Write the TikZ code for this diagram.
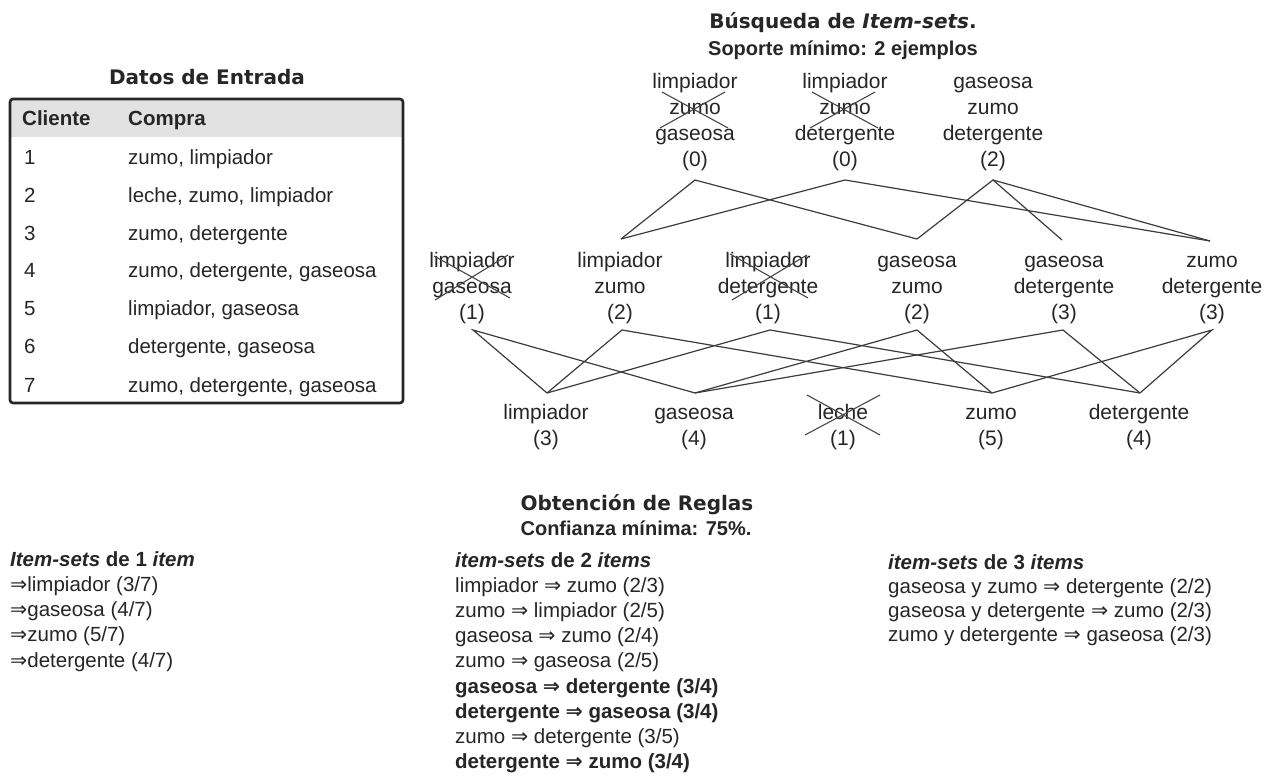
\documentclass[tikz,border=0pt]{standalone}
\usepackage{fontspec}
\setmainfont{Liberation Sans}
\newfontfamily\vfont{DejaVu Sans}
\newfontfamily\dvfont{DejaVu Sans}
\newcommand\imp{{\dvfont ⇒}}
\definecolor{ink}{HTML}{262626}
\definecolor{hdr}{HTML}{E2E2E2}
\begin{document}
\begin{tikzpicture}[x=1pt,y=-1pt,
  txt/.style={font=\fontsize{21}{26}\selectfont, inner sep=0pt, align=center, text=ink},
  cell/.style={font=\fontsize{20.5}{24}\selectfont, inner sep=0pt, anchor=base west, text=ink},
  rules/.style={font=\fontsize{20.5}{25.2}\selectfont, inner sep=0pt, align=left, anchor=base west, text=ink},
  title/.style={font=\vfont\bfseries\fontsize{20}{24}\selectfont, inner sep=0pt, text=ink},
  subtitle/.style={font=\bfseries\fontsize{20}{24}\selectfont, inner sep=0pt, text=ink},
  edge/.style={line width=1.2pt, draw=ink!90},
  xmark/.style={line width=1.1pt, draw=ink!85}]
\fill[white] (0,0) rectangle (1272,778);
\useasboundingbox (0,0) rectangle (1272,778);

% ---------------- Datos de Entrada ----------------
\node[title] (tdatos) at (207,77) {Datos de Entrada};
\fill[hdr] (11,100) rectangle (402,137);
\draw[line width=2.6pt, draw=ink, rounded corners=3pt] (10,99) rectangle (403,403);
\node[cell, font=\bfseries\fontsize{20.5}{24}\selectfont] (hc) at (22,125.5) {Cliente};
\node[cell, font=\bfseries\fontsize{20.5}{24}\selectfont] (hp) at (128,125.5) {Compra};
\node[cell] (n1) at (24,164.5) {1};  \node[cell] (c1) at (128,164.5) {zumo, limpiador};
\node[cell] (n2) at (24,202.5) {2};  \node[cell] (c2) at (128,202.5) {leche, zumo, limpiador};
\node[cell] (n3) at (24,240.5) {3};  \node[cell] (c3) at (128,240.5) {zumo, detergente};
\node[cell] (n4) at (24,277.5) {4};  \node[cell] (c4) at (128,277.5) {zumo, detergente, gaseosa};
\node[cell] (n5) at (24,315.5) {5};  \node[cell] (c5) at (128,315.5) {limpiador, gaseosa};
\node[cell] (n6) at (24,353.5) {6};  \node[cell] (c6) at (128,353.5) {detergente, gaseosa};
\node[cell] (n7) at (24,392.5) {7};  \node[cell] (c7) at (128,392.5) {zumo, detergente, gaseosa};

% ---------------- Busqueda de item-sets ----------------
\node[title] (tbus) at (843,23) {Búsqueda de \textit{Item-sets}.};
\node[subtitle] (tsop) at (843,50) {Soporte mínimo: 2 ejemplos};

% level 3 (base = last line)
\node[txt, anchor=base] (lzg) at (695,167) {limpiador\\zumo\\gaseosa\\(0)};
\node[txt, anchor=base] (lzd) at (845,167) {limpiador\\zumo\\detergente\\(0)};
\node[txt, anchor=base] (gzd) at (993,167) {gaseosa\\zumo\\detergente\\(2)};
% level 2
\node[txt, anchor=base] (lg) at (472,319) {limpiador\\gaseosa\\(1)};
\node[txt, anchor=base] (lz) at (620,319) {limpiador\\zumo\\(2)};
\node[txt, anchor=base] (ld) at (768,319) {limpiador\\detergente\\(1)};
\node[txt, anchor=base] (gz) at (917,319) {gaseosa\\zumo\\(2)};
\node[txt, anchor=base] (gd) at (1064,319) {gaseosa\\detergente\\(3)};
\node[txt, anchor=base] (zd) at (1212,319) {zumo\\detergente\\(3)};
% level 1
\node[txt, anchor=base] (il) at (546,445) {limpiador\\(3)};
\node[txt, anchor=base] (ig) at (694,445) {gaseosa\\(4)};
\node[txt, anchor=base] (ile) at (843,445) {leche\\(1)};
\node[txt, anchor=base] (iz) at (991,445) {zumo\\(5)};
\node[txt, anchor=base] (id) at (1139,445) {detergente\\(4)};

% connection points
\coordinate (lzg-b) at (695,180);
\coordinate (lzd-b) at (845,180);
\coordinate (gzd-b) at (993,180);
\coordinate (lz-t) at (621,239);
\coordinate (gz-t) at (917,239);
\coordinate (gd-t) at (1062,240);
\coordinate (zd-t) at (1210,241);
\coordinate (lg-b) at (473,330);
\coordinate (lz-b) at (622,330);
\coordinate (ld-b) at (770,330);
\coordinate (gz-b) at (917,330);
\coordinate (gd-b) at (1063,330);
\coordinate (zd-b) at (1212,330);
\coordinate (il-t) at (547,393);
\coordinate (ig-t) at (695,393);
\coordinate (iz-t) at (992,393);
\coordinate (id-t) at (1140,393);

% level 3 -> level 2
\draw[edge] (lz-t) -- (lzg-b) -- (gz-t);
\draw[edge] (lz-t) -- (lzd-b) -- (zd-t);
\draw[edge] (gz-t) -- (gzd-b) -- (gd-t);
\draw[edge] (gzd-b) -- (zd-t);
% level 2 -> level 1
\draw[edge] (il-t) -- (lg-b) -- (ig-t);
\draw[edge] (il-t) -- (lz-b) -- (iz-t);
\draw[edge] (il-t) -- (ld-b) -- (id-t);
\draw[edge] (ig-t) -- (gz-b) -- (iz-t);
\draw[edge] (ig-t) -- (gd-b) -- (id-t);
\draw[edge] (iz-t) -- (zd-b) -- (id-t);

% crosses
\draw[xmark] (662,92) -- (728,128) (660,128) -- (725,92);
\draw[xmark] (812,92) -- (878,128) (810,128) -- (875,92);
\draw[xmark] (434,256) -- (510,298) (435,300) -- (508,255);
\draw[xmark] (730,254) -- (808,298) (732,300) -- (807,255);
\draw[xmark] (807,395) -- (880,435) (805,435) -- (880,395);

% ---------------- Obtencion de reglas ----------------
\node[title] (tobt) at (637,505) {Obtención de Reglas};
\node[subtitle] (tconf) at (636,528) {Confianza mínima: 75\%.};

\node[rules] (r1) at (10,667) {\textbf{\textit{Item-sets} de 1 \textit{item}}\\
\imp limpiador (3/7)\\
\imp gaseosa (4/7)\\
\imp zumo (5/7)\\
\imp detergente (4/7)};

\node[rules] (r2) at (455,768.6) {\textbf{\textit{item-sets} de 2 \textit{items}}\\
limpiador \imp{} zumo (2/3)\\
zumo \imp{} limpiador (2/5)\\
gaseosa \imp{} zumo (2/4)\\
zumo \imp{} gaseosa (2/5)\\
\textbf{gaseosa \imp{} detergente (3/4)}\\
\textbf{detergente \imp{} gaseosa (3/4)}\\
zumo \imp{} detergente (3/5)\\
\textbf{detergente \imp{} zumo (3/4)}};

\node[rules, font=\fontsize{20.5}{24.2}\selectfont] (r3) at (888,641.6) {\textbf{\textit{item-sets} de 3 \textit{items}}\\
gaseosa y zumo \imp{} detergente (2/2)\\
gaseosa y detergente \imp{} zumo (2/3)\\
zumo y detergente \imp{} gaseosa (2/3)};
\end{tikzpicture}
\end{document}
